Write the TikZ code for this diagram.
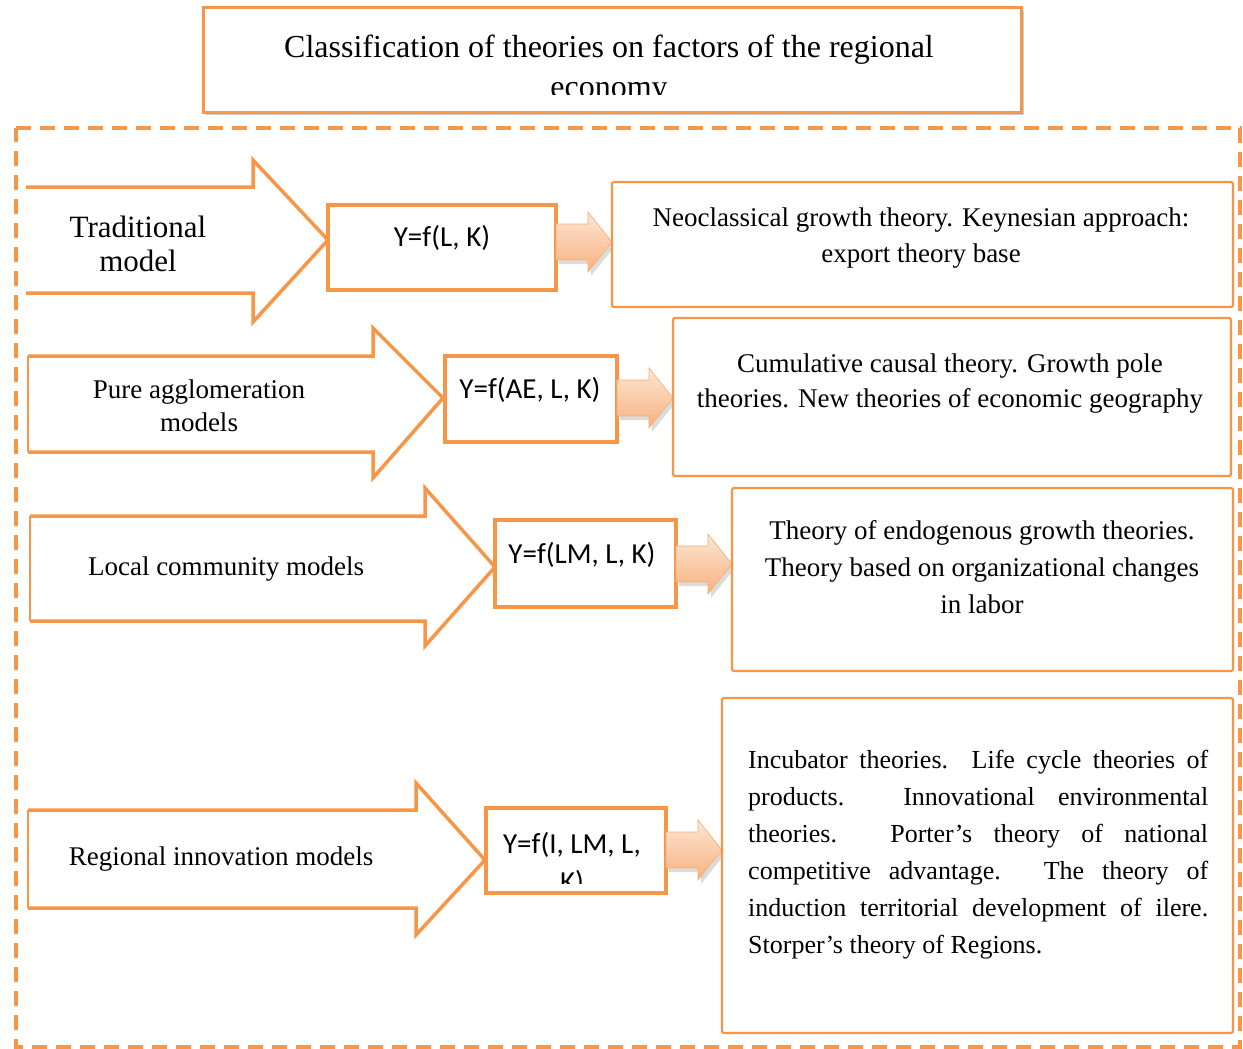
\documentclass[tikz,border=0pt]{standalone}
\usepackage{fontspec}
\setmainfont{Liberation Serif}
\newfontfamily\calib{Carlito}
\definecolor{org}{HTML}{F79646}
\definecolor{peachA}{HTML}{FDE6D3}
\definecolor{peachB}{HTML}{F7B17F}
\begin{document}
\begin{tikzpicture}[x=1pt,y=-1pt,
  bigarrow/.style={draw=org,line width=3.5pt,line join=miter},
  fbox/.style={draw=org,line width=4pt},
  tbox/.style={draw=org,line width=2.2pt,rounded corners=2pt},
  ttl/.style={font=\fontsize{32}{38}\selectfont,inner sep=0pt},
  lbl/.style={font=\fontsize{27}{33}\selectfont,align=center,inner sep=0pt},
  frm/.style={font=\calib\fontsize{29}{34}\selectfont,inner sep=0pt},
  txt/.style={font=\fontsize{27}{36}\selectfont,align=center,inner sep=0pt},
  sarrow/.pic={
    \fill[black!35,opacity=0.4] (3,-14) -- (35,-14) -- (35,-26) -- (59,4) -- (35,34) -- (35,22) -- (3,22) -- cycle;
    \shade[top color=peachA,bottom color=peachB,draw=peachB!90!orange,line width=0.6pt]
      (0,-18) -- (32,-18) -- (32,-30) -- (56,0) -- (32,30) -- (32,18) -- (0,18) -- cycle;}
]
\useasboundingbox (0,0) rectangle (1243,1049);

% title
\fill[black!20] (206,11) rectangle (1024,115);
\draw[org,line width=3pt,fill=white] (203,8) rectangle (1021,112);
\node[ttl,anchor=base] (title) at (609,58) {Classification of theories on factors of the regional};
\begin{scope}
\clip (205,10) rectangle (1019,95);
\node[ttl,anchor=base] (title2) at (609,98) {economy};
\end{scope}

% dashed frame
\draw[org,line width=3.5pt,dash pattern=on 15pt off 9pt] (16,128) -- (1240,128) -- (1240,1047) -- (16,1047) -- cycle;

% big arrows
\fill[white] (28,187) -- (253,187) -- (253,160) -- (328,240) -- (253,322) -- (253,293) -- (28,293) -- cycle;
\draw[bigarrow] (26,187) -- (253,187) -- (253,160) -- (328,240) -- (253,322) -- (253,293) -- (26,293);

\fill[white] (28,356) -- (373,356) -- (373,328) -- (443,398) -- (373,478) -- (373,452) -- (28,452) -- cycle;
\draw[bigarrow] (28,356) -- (373,356) -- (373,328) -- (443,398) -- (373,478) -- (373,452) -- (28,452);
\draw[org,line width=1.2pt] (28,356) -- (28,452);

\fill[white] (30,516) -- (425,516) -- (425,488) -- (495,567) -- (425,646) -- (425,621) -- (30,621) -- cycle;
\draw[bigarrow] (30,516) -- (425,516) -- (425,488) -- (495,567) -- (425,646) -- (425,621) -- (30,621);
\draw[org,line width=1.2pt] (30,516) -- (30,621);

\fill[white] (28,810) -- (416,810) -- (416,783) -- (485,860) -- (416,935) -- (416,908) -- (28,908) -- cycle;
\draw[bigarrow] (28,810) -- (416,810) -- (416,783) -- (485,860) -- (416,935) -- (416,908) -- (28,908);
\draw[org,line width=1.2pt] (28,810) -- (28,908);

% labels
\node[lbl,font=\fontsize{31}{34}\selectfont] (lab1) at (138,244) {Traditional\\model};
\node[lbl] (lab2) at (199,406) {Pure agglomeration\\models};
\node[lbl] (lab3) at (226,569) {Local community models};
\node[lbl] (lab4) at (221,859) {Regional innovation models};

% formula boxes
\draw[fbox,fill=white] (328,205) rectangle (556,290);
\node[frm] (f1) at (442,238) {Y=f(L, K)};
\coordinate (f1e) at (556,242);

\draw[fbox,fill=white] (445,356) rectangle (617,442);
\node[frm] (f2) at (530,390) {Y=f(AE, L, K)};
\coordinate (f2e) at (617,398);

\draw[fbox,fill=white] (495,520) rectangle (676,607);
\node[frm] (f3) at (582,555) {Y=f(LM, L, K)};
\coordinate (f3e) at (676,564);

\fill[white] (486,808) rectangle (666,893);
\node[frm,anchor=base] (f4) at (572,853) {Y=f(I, LM, L,};
\begin{scope}
\clip (488,810) rectangle (664,883);
\node[frm,anchor=base] (f4b) at (572,891) {K)};
\end{scope}
\draw[fbox] (486,808) rectangle (666,893);
\coordinate (f4e) at (666,850);

% small arrows
\pic at (f1e) {sarrow};
\pic at (f2e) {sarrow};
\pic at (f3e) {sarrow};
\pic at (f4e) {sarrow};

% text boxes
\draw[tbox,fill=white] (612,182) rectangle (1233,307);
\node[txt] (t1) at (921,238) {Neoclassical growth theory. Keynesian approach:\\export theory base};

\draw[tbox,fill=white] (673,318) rectangle (1231,476);
\node[txt,font=\fontsize{27}{35}\selectfont] (t2) at (950,384) {Cumulative causal theory. Growth pole\\theories. New theories of economic geography};

\draw[tbox,fill=white] (732,488) rectangle (1233,671);
\node[txt,font=\fontsize{27}{37}\selectfont] (t3) at (982,567) {Theory of endogenous growth theories.\\Theory based on organizational changes\\in labor};

\draw[tbox,fill=white] (722,698) rectangle (1233,1033);
\node[font=\fontsize{26}{37}\selectfont,text width=460pt,align=justify,inner sep=0pt,anchor=base west] (t4) at (748,768)
 {Incubator theories. Life cycle theories of\linebreak products. Innovational environmental\linebreak theories. Porter's theory of national\linebreak competitive advantage. The theory of\linebreak induction territorial development of ilere.\linebreak Storper's theory of Regions.};
\end{tikzpicture}
\end{document}
